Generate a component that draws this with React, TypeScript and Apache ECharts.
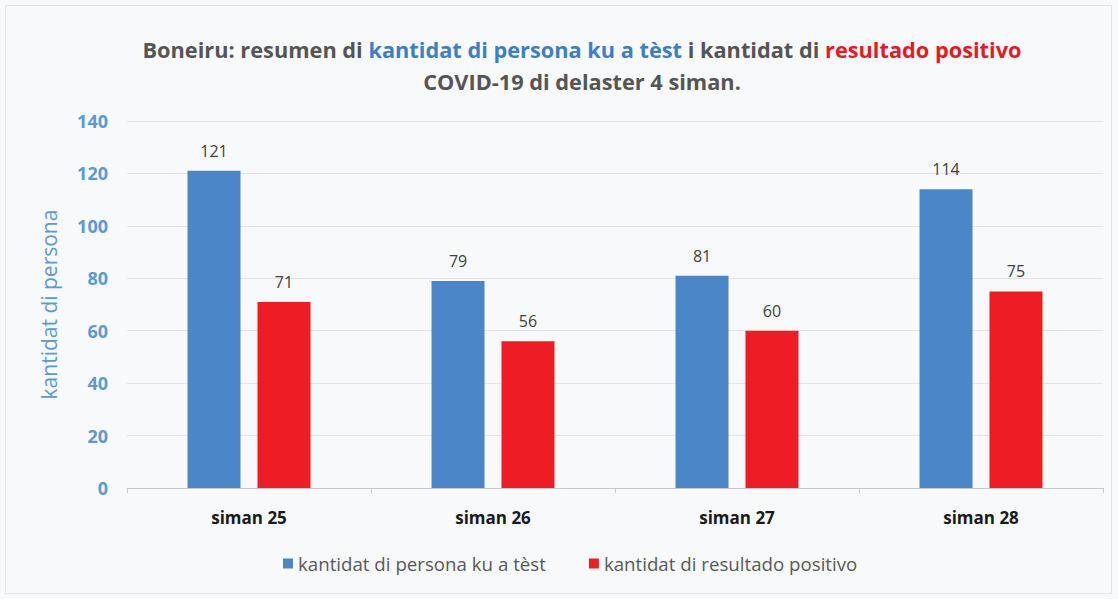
import React, { useEffect, useRef } from "react";
import * as echarts from "echarts";

const categories = ["siman 25", "siman 26", "siman 27", "siman 28"];
const testedValues = [121, 79, 81, 114];
const positiveValues = [71, 56, 60, 75];
const seriesNames = ["kantidat di persona ku a tèst", "kantidat di resultado positivo"];
const yTicks = [0, 20, 40, 60, 80, 100, 120, 140];

const FONT = "'Open Sans', Lato, sans-serif";

export default function App() {
  const ref = useRef<HTMLDivElement>(null);
  useEffect(() => {
    if (!ref.current) return;
    const chart = echarts.init(ref.current, null, { renderer: "svg" });
    const TS = 21.75;
    chart.setOption({
      animation: false,
      backgroundColor: "#f8f9fa",
      textStyle: { fontFamily: FONT },
      graphic: [
        {
          type: "rect",
          shape: { x: 5.5, y: 5.5, width: 1106, height: 588 },
          style: { fill: "none", stroke: "#e2e4e6", lineWidth: 1 },
          silent: true,
        },
      ],
      title: {
        text:
          "{g|Boneiru: resumen di }{b|kantidat di persona ku a tèst}{g| i kantidat di }{r|resultado positivo}\n{g|COVID-19 di delaster 4 siman.}",
        left: 582,
        top: 33,
        padding: 0,
        textAlign: "center",
        textStyle: {
          rich: {
            g: { color: "#555555", fontSize: TS, fontWeight: "bold", fontFamily: FONT, lineHeight: 32 },
            b: { color: "#3c7fc6", fontSize: TS, fontWeight: "bold", fontFamily: FONT, lineHeight: 32 },
            r: { color: "#e8191f", fontSize: TS, fontWeight: "bold", fontFamily: FONT, lineHeight: 32 },
          },
        },
      },
      legend: {
        top: 549,
        left: 278,
        itemWidth: 10,
        itemHeight: 10,
        itemGap: 43,
        icon: "rect",
        textStyle: { color: "#595959", fontSize: 18.7, fontFamily: FONT },
        data: seriesNames,
      },
      grid: { left: 127, right: 15, top: 121, bottom: 111, containLabel: false },
      xAxis: {
        type: "category",
        data: categories,
        axisLine: { lineStyle: { color: "#c8c8c8" } },
        axisTick: { show: true, length: 5, lineStyle: { color: "#c8c8c8" } },
        axisLabel: { color: "#1a1a1a", fontSize: 17, fontWeight: "bold", margin: 21, fontFamily: FONT },
      },
      yAxis: {
        type: "value",
        min: yTicks[0],
        max: yTicks[yTicks.length - 1],
        interval: 20,
        name: "kantidat di persona",
        nameLocation: "middle",
        nameGap: 68,
        nameTextStyle: { color: "#5b9bd5", fontSize: 21, fontFamily: FONT },
        axisLine: { show: false },
        axisTick: { show: false },
        axisLabel: { color: "#5b9bd5", fontSize: 18, fontWeight: "bold", margin: 19, fontFamily: FONT },
        splitLine: { lineStyle: { color: "#e2e4e6" } },
      },
      series: [
        {
          name: seriesNames[0],
          type: "bar",
          data: testedValues,
          barWidth: 53,
          barGap: "32%",
          itemStyle: { color: "#4a86c8" },
          label: { show: true, position: "top", distance: 12, color: "#404040", fontSize: 16, fontFamily: FONT },
        },
        {
          name: seriesNames[1],
          type: "bar",
          data: positiveValues,
          barWidth: 53,
          barGap: "32%",
          itemStyle: { color: "#ee1c24" },
          label: { show: true, position: "top", distance: 12, color: "#404040", fontSize: 16, fontFamily: FONT },
        },
      ],
    });
    return () => chart.dispose();
  }, []);
  return <div ref={ref} style={{ position: "absolute", left: 0, top: 0, width: 1118, height: 599 }} />;
}
